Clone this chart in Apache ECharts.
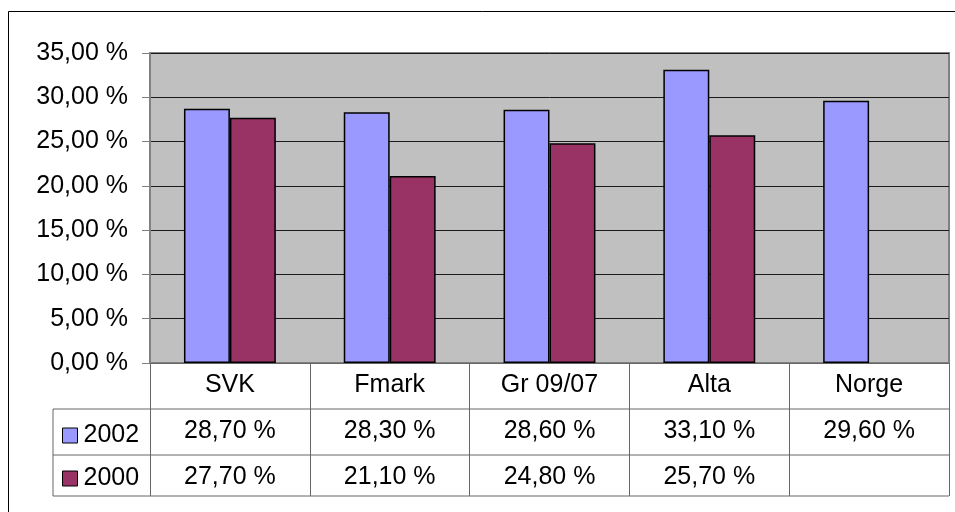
<!DOCTYPE html>
<html>
<head>
    <meta charset="utf-8">
    <title>ECharts</title>
    <script src="https://cdn.jsdelivr.net/npm/echarts@6/dist/echarts.min.js"></script>
    <script type="text/javascript">
        // data
        var categories = ['SVK', 'Fmark', 'Gr 09/07', 'Alta', 'Norge'];
        var seriesNames = ['2002', '2000'];
        var values2002 = [28.7, 28.3, 28.6, 33.1, 29.6];
        var values2000 = [27.7, 21.1, 24.8, 25.7, null];
        var yTicks = { min: 0, max: 35, interval: 5 };
    </script>
</head>

<body style='background-color: #fff;margin:0px;'>
    <div id="main" style="width: 955px;height:512px;"></div>
    <script type="text/javascript">
        var font = "'Liberation Sans', Arial, sans-serif";
        var fs = 25;
        var G = { left: 150, top: 53, width: 799, height: 310 };   // plot area
        var rowH = 46;                                               // data table row height
        var tableLeft = 53;

        function pct(v) {
            if (v === null || v === undefined) return '';
            return v.toFixed(2).replace('.', ',') + ' %';
        }

        var myChart = echarts.init(document.getElementById('main'));

        function rowAxis(vals, offset) {
            return {
                type: 'category', data: categories, position: 'bottom', gridIndex: 0,
                offset: offset,
                axisLine: { show: false }, axisTick: { show: false },
                axisLabel: {
                    interval: 0, margin: 10, color: '#000', fontSize: fs, fontFamily: font,
                    formatter: function (v, i) { return pct(vals[i]); }
                }
            };
        }

        var bottom = G.top + G.height;
        var right = G.left + G.width;
        var lineStyle = { stroke: '#666', lineWidth: 1 };

        var option = {
            animation: false,
            grid: {
                left: G.left, top: G.top, width: G.width, height: G.height,
                show: true, backgroundColor: '#C0C0C0', borderColor: '#808080', borderWidth: 2
            },
            legend: {
                orient: 'vertical', left: 62, top: bottom + rowH + 14, itemGap: 18, padding: 0,
                itemWidth: 15, itemHeight: 15, icon: 'rect',
                textStyle: { color: '#000', fontSize: fs, fontFamily: font, padding: [0, 0, 0, 1] },
                itemStyle: { borderColor: '#000', borderWidth: 1 },
                data: seriesNames
            },
            xAxis: [
                {
                    type: 'category', data: categories, position: 'bottom',
                    axisLine: { show: true, lineStyle: { color: '#666', width: 1 } },
                    axisTick: { show: true, length: rowH * 3 - 5, lineStyle: { color: '#666' } },
                    axisLabel: { interval: 0, margin: 10, color: '#000', fontSize: fs, fontFamily: font }
                },
                rowAxis(values2002, rowH),
                rowAxis(values2000, rowH * 2)
            ],
            yAxis: {
                type: 'value', min: yTicks.min, max: yTicks.max, interval: yTicks.interval,
                axisLine: { show: true, lineStyle: { color: '#808080', width: 2 } },
                axisTick: { show: true, length: 8, lineStyle: { color: '#808080' } },
                axisLabel: {
                    margin: 22, color: '#000', fontSize: fs, fontFamily: font,
                    formatter: function (v) { return pct(v); }
                },
                splitLine: { show: true, lineStyle: { color: '#1a1a1a', width: 1 } }
            },
            series: [
                {
                    name: seriesNames[0], type: 'bar', data: values2002,
                    barCategoryGap: '42.5%', barGap: '0%',
                    itemStyle: { color: '#9999FF', borderColor: '#000', borderWidth: 1.5 }
                },
                {
                    name: seriesNames[1], type: 'bar', data: values2000,
                    barCategoryGap: '42.5%', barGap: '0%',
                    itemStyle: { color: '#993366', borderColor: '#000', borderWidth: 1.5 }
                }
            ],
            graphic: [
                // outer chart border
                { type: 'rect', shape: { x: 8.5, y: 11.5, width: 960, height: 520 },
                  style: { fill: 'none', stroke: '#000', lineWidth: 1 }, silent: true },
                // data table lines
                { type: 'line', shape: { x1: tableLeft, y1: bottom + rowH, x2: right, y2: bottom + rowH }, style: lineStyle },
                { type: 'line', shape: { x1: tableLeft, y1: bottom + rowH * 2, x2: right, y2: bottom + rowH * 2 }, style: lineStyle },
                { type: 'line', shape: { x1: tableLeft, y1: bottom + rowH * 3 - 5, x2: right, y2: bottom + rowH * 3 - 5 }, style: lineStyle },
                { type: 'line', shape: { x1: tableLeft, y1: bottom + rowH, x2: tableLeft, y2: bottom + rowH * 3 - 5 }, style: lineStyle }
            ]
        };
        myChart.setOption(option);
    </script>
</body>
</html>
